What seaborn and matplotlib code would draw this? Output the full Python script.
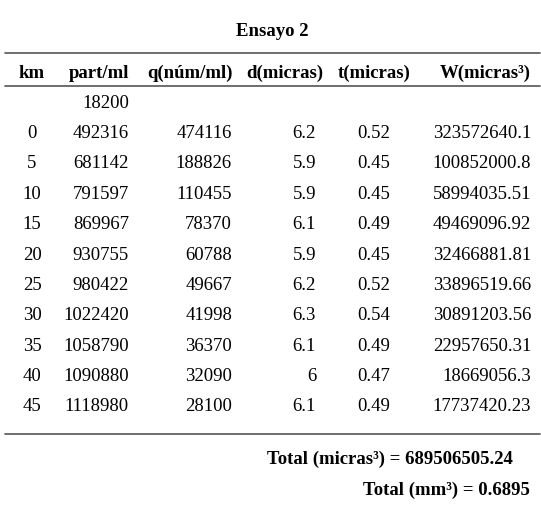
import matplotlib
matplotlib.use("Agg")
import matplotlib.pyplot as plt
import seaborn as sns

sns.set_theme(style="white")
plt.rcParams['font.family'] = ['Liberation Serif', 'DejaVu Serif']
plt.rcParams['text.color'] = 'black'

title = "Ensayo 2"
headers = ["km", "part/ml", "q(núm/ml)", "d(micras)", "t(micras)", "W(micras³)"]
km = ["", "0", "5", "10", "15", "20", "25", "30", "35", "40", "45"]
part_ml = ["18200", "492316", "681142", "791597", "869967", "930755", "980422", "1022420", "1058790", "1090880", "1118980"]
q = ["", "474116", "188826", "110455", "78370", "60788", "49667", "41998", "36370", "32090", "28100"]
d = ["", "6.2", "5.9", "5.9", "6.1", "5.9", "6.2", "6.3", "6.1", "6", "6.1"]
t = ["", "0.52", "0.45", "0.45", "0.49", "0.45", "0.52", "0.54", "0.49", "0.47", "0.49"]
W = ["", "323572640.1", "100852000.8", "58994035.51", "49469096.92", "32466881.81",
     "33896519.66", "30891203.56", "22957650.31", "18669056.3", "17737420.23"]
totals = ["Total (micras³) = 689506505.24", "Total (mm³) = 0.6895"]

fig = plt.figure(figsize=(5.41, 5.06), dpi=100)
ax = fig.add_axes([0, 0, 1, 1])
ax.set_xlim(0, 541)
ax.set_ylim(506, 0)
ax.axis("off")

fs = 13.5
ax.text(272, 31, title, ha="center", va="center", fontsize=fs, fontweight="bold")
for y in (54, 87, 435):
    ax.plot([5, 540], [y, y], color="#555555", lw=1.2)

cols = [(32, "center"), (129, "right"), (232, "right"), (316, "right"), (374, "center"), (531, "right")]
hdr_x = [(32, "center"), (129, "right"), (233, "right"), (323, "right"), (374, "center"), (531, "right")]
for (x, ha), h in zip(hdr_x, headers):
    ax.text(x, 73, h, ha=ha, va="center", fontsize=fs, fontweight="bold")

data = [km, part_ml, q, d, t, W]
for i in range(len(km)):
    y = 103 + i * 30.4
    for (x, ha), col in zip(cols, data):
        ax.text(x, y, col[i], ha=ha, va="center", fontsize=fs)

ax.text(513, 459, totals[0], ha="right", va="center", fontsize=fs, fontweight="bold")
ax.text(530, 490, totals[1], ha="right", va="center", fontsize=fs, fontweight="bold")

fig.savefig("out.png", dpi=100, facecolor="white")
